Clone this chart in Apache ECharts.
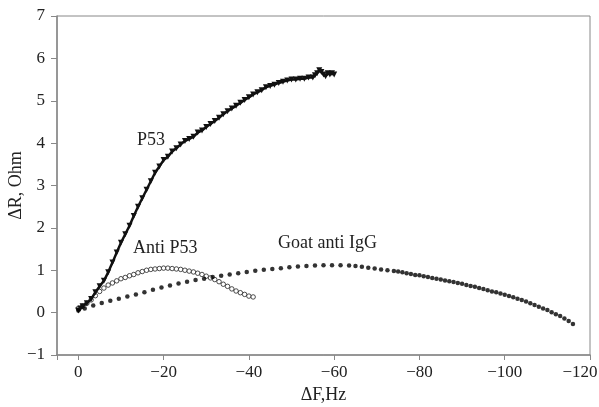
<!DOCTYPE html>
<html>
<head>
<meta charset="utf-8">
<script src="https://cdn.jsdelivr.net/npm/echarts@6/dist/echarts.min.js"></script>
<style>html,body{margin:0;padding:0;background:#fff}#c{width:599px;height:407px}</style>
</head>
<body>
<div id="c"></div>
<script>
// P53 (dF, dR)
var p53 = [[0,0.05],[-0.5,0.1],[-1,0.15],[-2,0.22],[-3,0.32],[-4,0.48],[-5,0.62],[-6,0.75],[-7,0.95],[-8,1.18],[-9,1.42],[-10,1.65],[-11,1.85],[-12,2.05],[-13,2.28],[-14,2.5],[-15,2.7],[-16,2.9],[-17,3.1],[-18,3.3],[-19,3.45],[-20,3.6],[-21,3.68],[-22,3.8],[-23,3.88],[-24,3.97],[-25,4.05],[-26,4.1],[-27,4.15],[-28,4.25],[-29,4.3],[-30,4.38],[-31,4.45],[-32,4.52],[-33,4.6],[-34,4.68],[-35,4.75],[-36,4.82],[-37,4.88],[-38,4.95],[-39,5.02],[-40,5.08],[-41,5.15],[-42,5.2],[-43,5.25],[-44,5.32],[-45,5.35],[-46,5.38],[-47,5.42],[-48,5.45],[-49,5.48],[-50,5.5],[-51,5.5],[-52,5.52],[-53,5.52],[-54,5.55],[-55,5.55],[-55.5,5.6],[-56,5.65],[-56.5,5.72],[-57,5.68],[-57.5,5.62],[-58,5.58],[-58.5,5.65],[-59,5.62],[-59.5,5.65],[-60,5.62]];
// Anti P53
var antiP53 = [[0,0.1],[-1,0.15],[-2,0.22],[-3,0.3],[-4,0.4],[-5,0.5],[-6,0.58],[-7,0.65],[-8,0.7],[-9,0.75],[-10,0.8],[-11,0.83],[-12,0.87],[-13,0.9],[-14,0.94],[-15,0.97],[-16,1.0],[-17,1.02],[-18,1.03],[-19,1.04],[-20,1.05],[-21,1.05],[-22,1.04],[-23,1.03],[-24,1.02],[-25,1.0],[-26,0.98],[-27,0.96],[-28,0.93],[-29,0.9],[-30,0.86],[-31,0.82],[-32,0.78],[-33,0.73],[-34,0.67],[-35,0.62],[-36,0.56],[-37,0.51],[-38,0.47],[-39,0.43],[-40,0.39],[-41,0.37]];
// Goat anti IgG
var goatIgG = [[0,0.05],[-1.5,0.1],[-3.5,0.17],[-5.5,0.23],[-7.5,0.28],[-9.5,0.33],[-11.5,0.38],[-13.5,0.43],[-15.5,0.48],[-17.5,0.54],[-19.5,0.59],[-21.5,0.64],[-23.5,0.69],[-25.5,0.73],[-27.5,0.77],[-29.5,0.8],[-31.5,0.84],[-33.5,0.87],[-35.5,0.9],[-37.5,0.93],[-39.5,0.96],[-41.5,0.99],[-43.5,1.01],[-45.5,1.03],[-47.5,1.05],[-49.5,1.07],[-51.5,1.09],[-53.5,1.1],[-55.5,1.11],[-57.5,1.12],[-59.5,1.12],[-61.5,1.12],[-63.5,1.11],[-65,1.1],[-66.5,1.08],[-68,1.06],[-69.5,1.04],[-71,1.02],[-72.5,1.0],[-74,0.98],[-75,0.97],[-76,0.95],[-77,0.93],[-78,0.91],[-79,0.89],[-80,0.88],[-81,0.86],[-82,0.84],[-83,0.82],[-84,0.8],[-85,0.78],[-86,0.76],[-87,0.74],[-88,0.72],[-89,0.7],[-90,0.68],[-91,0.65],[-92,0.63],[-93,0.61],[-94,0.58],[-95,0.56],[-96,0.53],[-97,0.5],[-98,0.48],[-99,0.45],[-100,0.42],[-101,0.39],[-102,0.36],[-103,0.33],[-104,0.3],[-105,0.26],[-106,0.22],[-107,0.18],[-108,0.14],[-109,0.1],[-110,0.06],[-111,0.01],[-112,-0.04],[-113,-0.08],[-114,-0.14],[-115,-0.2],[-116,-0.27]];
var seriesNames = ['P53', 'Anti P53', 'Goat anti IgG'];
var xTitle = '\u0394F,Hz';
var yTitle = '\u0394R, Ohm';

var FONT = 'Liberation Serif';
function minus(v){ return String(v).replace('-', '\u2212'); }
function fmtX(v){
  if (v > 0) return '';
  if (v === -120) return '{r|' + minus(v) + '}';
  return minus(v);
}
var chart = echarts.init(document.getElementById('c'));
chart.setOption({
  animation: false,
  backgroundColor: '#fff',
  grid: {left: 57, right: 9, top: 16, bottom: 52, containLabel: false, outerBoundsMode: 'none',
         show: true, borderColor: '#888', borderWidth: 1},
  xAxis: {
    type: 'value', inverse: true, min: -120, max: 5, interval: 20,
    name: xTitle, nameLocation: 'middle', nameGap: 31, nameMoveOverlap: false,
    nameTextStyle: {fontFamily: FONT, fontSize: 18, color: '#222'},
    axisLine: {onZero: false, lineStyle: {color: '#888', width: 1.5}},
    axisTick: {show: true, length: 5, lineStyle: {color: '#888'}},
    axisLabel: {formatter: fmtX, fontFamily: FONT, fontSize: 17, color: '#222', margin: 9,
      hideOverlap: false,
      rich: {r: {fontFamily: FONT, fontSize: 17, color: '#222', padding: [0, 20, 0, 0]}}},
    splitLine: {show: false}
  },
  yAxis: {
    type: 'value', min: -1, max: 7, interval: 1,
    name: yTitle, nameLocation: 'middle', nameGap: 32, nameRotate: 90, nameMoveOverlap: false,
    nameTextStyle: {fontFamily: FONT, fontSize: 18, color: '#222'},
    axisLine: {show: true, onZero: false, lineStyle: {color: '#888', width: 1.5}},
    axisTick: {show: true, length: 6, lineStyle: {color: '#888'}},
    axisLabel: {formatter: minus, fontFamily: FONT, fontSize: 17, color: '#222', margin: 12},
    splitLine: {show: false}
  },
  series: [
    {name: seriesNames[0], type: 'line', data: p53, symbol: 'triangle', symbolRotate: 180, symbolSize: 6,
     showAllSymbol: true, itemStyle: {color: '#111'}, lineStyle: {color: '#111', width: 2.5}, z: 3},
    {name: seriesNames[1], type: 'scatter', data: antiP53, symbol: 'circle', symbolSize: 4.5,
     itemStyle: {color: '#fff', borderColor: '#222', borderWidth: 1}, z: 2},
    {name: seriesNames[2], type: 'scatter', data: goatIgG, symbol: 'circle', symbolSize: 4.5,
     itemStyle: {color: '#000'}, z: 4}
  ],
  graphic: [
    {type: 'text', left: 137, top: 131, style: {text: seriesNames[0], font: '18px "Liberation Serif"', fill: '#222'}},
    {type: 'text', left: 133, top: 239, style: {text: seriesNames[1], font: '18px "Liberation Serif"', fill: '#222'}},
    {type: 'text', left: 278, top: 234, style: {text: seriesNames[2], font: '18px "Liberation Serif"', fill: '#222'}}
  ]
});
</script>
</body>
</html>
